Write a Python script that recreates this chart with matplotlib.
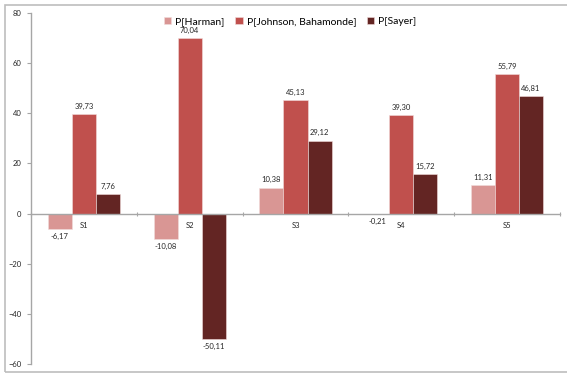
import matplotlib

matplotlib.use("Agg")
import matplotlib.pyplot as plt
import numpy as np
from matplotlib.patches import Rectangle

plt.rcParams["font.family"] = ["Lato", "DejaVu Sans"]

categories = ["S1", "S2", "S3", "S4", "S5"]
series_names = ["P[Harman]", "P[Johnson, Bahamonde]", "P[Sayer]"]
harman = [-6.17, -10.08, 10.38, -0.21, 11.31]
johnson = [39.73, 70.04, 45.13, 39.30, 55.79]
sayer = [7.76, -50.11, 29.12, 15.72, 46.81]
colors = ["#D99694", "#C0504D", "#632523"]

W, H = 567, 374
fig = plt.figure(figsize=(W / 100, H / 100), dpi=100)
ax = fig.add_axes([31 / W, 1 - 364 / H, (560 - 31) / W, (364 - 13) / H])

# chart-area border like the spreadsheet frame
fig.patches.append(Rectangle((5 / W, 2 / H), 1.2, 1 - 7 / H, transform=fig.transFigure,
                             fill=False, edgecolor="#bdbdbd", linewidth=1.2))

x = np.arange(len(categories))
bw = 0.227
gray = "#a6a6a6"
for k, (vals, name, c) in enumerate(zip([harman, johnson, sayer], series_names, colors)):
    pos = x + (k - 1) * bw
    ax.bar(pos, vals, bw, color=c, label=name, edgecolor="#f2dcdb", linewidth=0.4, zorder=2)
    for px, v in zip(pos, vals):
        txt = f"{v:.2f}".replace(".", ",")
        if v >= 0:
            ax.annotate(txt, (px, v), xytext=(0, 3), textcoords="offset points",
                        ha="center", va="bottom", fontsize=5.5, color="#262626")
        else:
            ax.annotate(txt, (px, v), xytext=(0, -3), textcoords="offset points",
                        ha="center", va="top", fontsize=5.5, color="#262626")

ax.set_xlim(-0.5, len(categories) - 0.5)
ax.set_ylim(-60, 80)
ax.set_yticks(np.arange(-60, 81, 20))
ax.tick_params(axis="y", labelsize=5.5, length=3, color=gray, width=0.8, pad=4, labelcolor="#262626")

for s in ["top", "right"]:
    ax.spines[s].set_visible(False)
ax.spines["left"].set_color(gray)
ax.spines["left"].set_linewidth(1.0)
ax.spines["bottom"].set_position(("data", 0))
ax.spines["bottom"].set_color(gray)
ax.spines["bottom"].set_linewidth(1.0)
ax.spines["bottom"].set_zorder(3)

ax.set_xticks(x)
ax.set_xticklabels(categories)
ax.set_xticks(np.arange(-0.5, len(categories)), minor=True)
ax.tick_params(axis="x", which="major", length=0, labelsize=5.5, pad=6, labelcolor="#262626")
ax.tick_params(axis="x", which="minor", length=3, color=gray, width=0.8, direction="inout")

ax.legend(loc="upper center", bbox_to_anchor=(0.49, 1.0), ncol=3, frameon=False,
          fontsize=7.5, handlelength=0.7, handleheight=0.7, handletextpad=0.4,
          columnspacing=1.0, borderaxespad=0.0)

fig.savefig("out.png", dpi=100)
